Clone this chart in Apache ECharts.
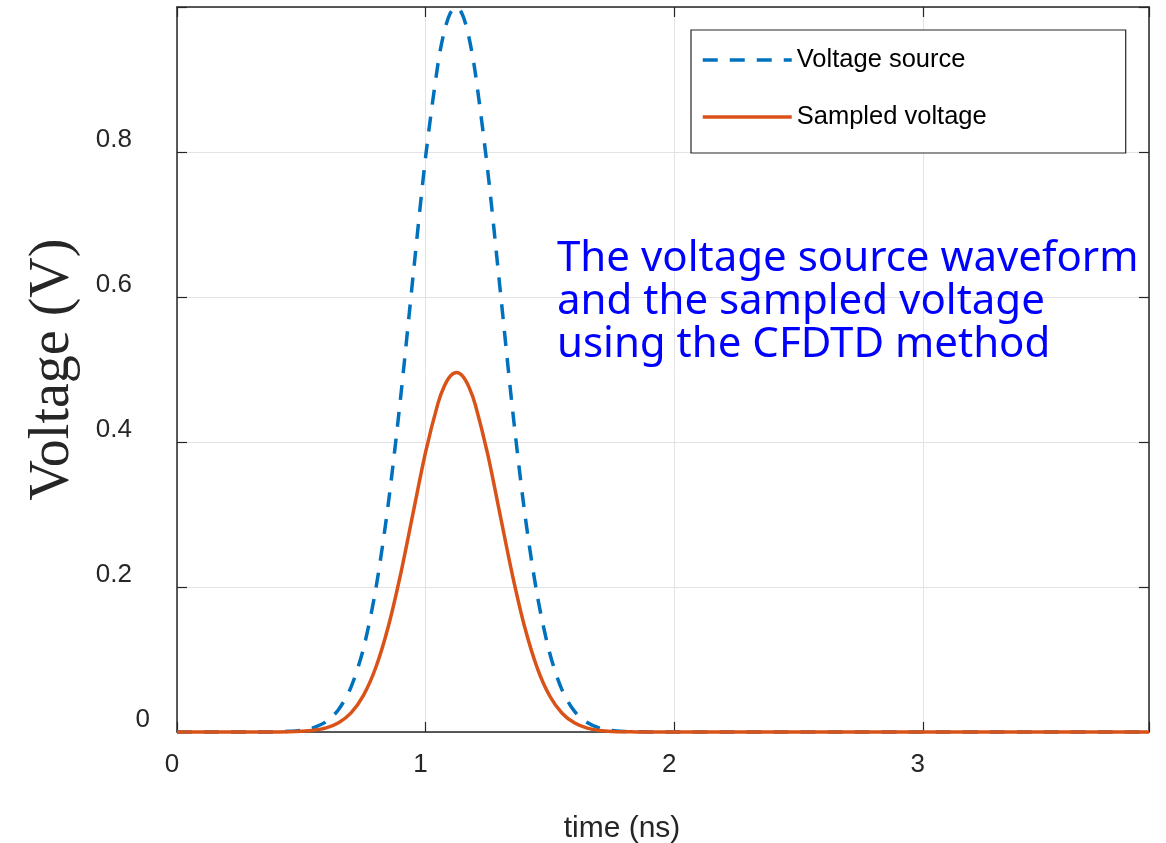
<!DOCTYPE html>
<html>
<head>
<meta charset="utf-8">
<script src="https://cdn.jsdelivr.net/npm/echarts@6/dist/echarts.min.js"></script>
<style>
html,body{margin:0;padding:0;background:#fff;}
#chart{width:1166px;height:843px;}
</style>
</head>
<body>
<div id="chart"></div>
<script>
// time samples (ns)
var timeNs = [0, 0.30, 0.35, 0.40, 0.45, 0.50, 0.55, 0.60, 0.65, 0.70, 0.75, 0.80, 0.85, 0.90, 0.95, 1.00, 1.05, 1.075, 1.10, 1.125, 1.15, 1.175, 1.20, 1.25, 1.30, 1.35, 1.40, 1.45, 1.50, 1.55, 1.60, 1.65, 1.70, 1.75, 1.80, 1.85, 1.90, 1.95, 2.00, 3.91];
// Voltage source (V)
var voltageSource = [0, 0, 0.0001, 0.0003, 0.0009, 0.0024, 0.0061, 0.0142, 0.031, 0.062, 0.115, 0.198, 0.315, 0.463, 0.630, 0.793, 0.922, 0.966, 0.992, 1.000, 0.988, 0.957, 0.909, 0.774, 0.610, 0.444, 0.299, 0.187, 0.108, 0.057, 0.028, 0.013, 0.0054, 0.0021, 0.0008, 0.0003, 0.0001, 0, 0, 0];
// Sampled voltage (V)
var sampledVoltage = [0, 0, 0, 0.0001, 0.0003, 0.0009, 0.0023, 0.0056, 0.0127, 0.0263, 0.0505, 0.0893, 0.1456, 0.2186, 0.3026, 0.3859, 0.4536, 0.4770, 0.4913, 0.4960, 0.4906, 0.4754, 0.4514, 0.3828, 0.2991, 0.2155, 0.1430, 0.0875, 0.0493, 0.0256, 0.0123, 0.0054, 0.0022, 0.0008, 0.0003, 0.0001, 0, 0, 0, 0];
var seriesNames = ['Voltage source', 'Sampled voltage'];
var xTicks = [0, 1, 2, 3];
var yTicks = [0, 0.2, 0.4, 0.6, 0.8];
var annotationLines = ['The voltage source waveform', 'and the sampled voltage', 'using the CFDTD method'];

function pairs(xs, ys) { return xs.map(function (x, i) { return [x, ys[i]]; }); }

var axisColor = '#262626';
var gridColor = '#e3e3e3';
var sans = '"Liberation Sans", Arial, Helvetica, sans-serif';

var chart = echarts.init(document.getElementById('chart'), null, {renderer: 'canvas'});
var option = {
  animation: false,
  backgroundColor: '#ffffff',
  grid: {left: 177, right: 17, top: 7, bottom: 111, containLabel: false, outerBoundsMode: 'none'},
  xAxis: [{
    type: 'value', min: 0, max: 3.91, interval: 1, position: 'bottom',
    name: 'time (ns)', nameLocation: 'middle', nameGap: 82,
    nameTextStyle: {fontFamily: sans, fontSize: 30, color: axisColor, padding: [0, 82, 0, 0]},
    axisLine: {show: true, onZero: false, lineStyle: {color: axisColor, width: 1.5}},
    axisTick: {show: true, inside: true, length: 10, lineStyle: {color: axisColor, width: 1.2}},
    axisLabel: {
      margin: 20, fontFamily: sans, fontSize: 26, color: axisColor, padding: [0, 10, 0, 0],
      formatter: function (v) { return xTicks.indexOf(v) >= 0 ? String(v) : ''; }
    },
    splitLine: {show: true, lineStyle: {color: gridColor, width: 1}}
  }, {
    type: 'value', min: 0, max: 3.91, interval: 1, position: 'top',
    axisLine: {show: true, onZero: false, lineStyle: {color: axisColor, width: 1.5}},
    axisTick: {show: true, inside: true, length: 10, lineStyle: {color: axisColor, width: 1.2}},
    axisLabel: {show: false}, splitLine: {show: false}
  }],
  yAxis: [{
    type: 'value', min: 0, max: 1, interval: 0.2, position: 'left',
    name: 'Voltage (V)', nameLocation: 'middle', nameGap: 96,
    nameTextStyle: {fontFamily: '"Liberation Serif", "DejaVu Serif", serif', fontSize: 56, color: axisColor},
    axisLine: {show: true, onZero: false, lineStyle: {color: axisColor, width: 1.5}},
    axisTick: {show: true, inside: true, length: 10, lineStyle: {color: axisColor, width: 1.2}},
    axisLabel: {
      margin: 27, fontFamily: sans, fontSize: 26, color: axisColor, padding: [0, 0, 24, 0],
      formatter: function (v) {
        var r = Math.round(v * 10) / 10;
        if (yTicks.indexOf(r) < 0) return '';
        if (r === 0) return '{z|0}';
        return '{a|' + r + '}';
      },
      rich: {
        a: {fontFamily: sans, fontSize: 26, color: axisColor, padding: [0, 18, 0, 0]},
        z: {fontFamily: sans, fontSize: 26, color: axisColor}
      }
    },
    splitLine: {show: true, lineStyle: {color: gridColor, width: 1}}
  }, {
    type: 'value', min: 0, max: 1, interval: 0.2, position: 'right',
    axisLine: {show: true, onZero: false, lineStyle: {color: axisColor, width: 1.5}},
    axisTick: {show: true, inside: true, length: 10, lineStyle: {color: axisColor, width: 1.2}},
    axisLabel: {show: false}, splitLine: {show: false}
  }],
  legend: {
    show: true, orient: 'vertical', left: 691, top: 30,
    itemWidth: 89, itemHeight: 20, itemGap: 31,
    padding: [17, 139, 23, 10],
    backgroundColor: '#ffffff', borderColor: axisColor, borderWidth: 1.2, borderRadius: 0,
    itemStyle: {opacity: 0},
    lineStyle: {width: 3.5},
    textStyle: {fontFamily: sans, fontSize: 25.5, color: '#000000'},
    data: seriesNames
  },
  graphic: [{
    type: 'text', left: 557, top: 238, z: 100,
    style: {
      text: annotationLines.join('\n'),
      fontFamily: '"Noto Sans", "Open Sans", sans-serif', fontSize: 42, lineHeight: 43,
      fill: '#0000ff'
    }
  }],
  series: [{
    name: seriesNames[0], type: 'line', xAxisIndex: 0, yAxisIndex: 0,
    data: pairs(timeNs, voltageSource), smooth: 0.3, symbol: 'none', showSymbol: false,
    lineStyle: {color: '#0072BD', width: 3.5, type: [15, 12]}, itemStyle: {color: '#0072BD'},
    clip: false, z: 2
  }, {
    name: seriesNames[1], type: 'line', xAxisIndex: 0, yAxisIndex: 0,
    data: pairs(timeNs, sampledVoltage), smooth: 0.3, symbol: 'none', showSymbol: false,
    lineStyle: {color: '#D95319', width: 3.5, type: 'solid'}, itemStyle: {color: '#D95319'},
    clip: false, z: 3
  }]
};
chart.setOption(option);
</script>
</body>
</html>
